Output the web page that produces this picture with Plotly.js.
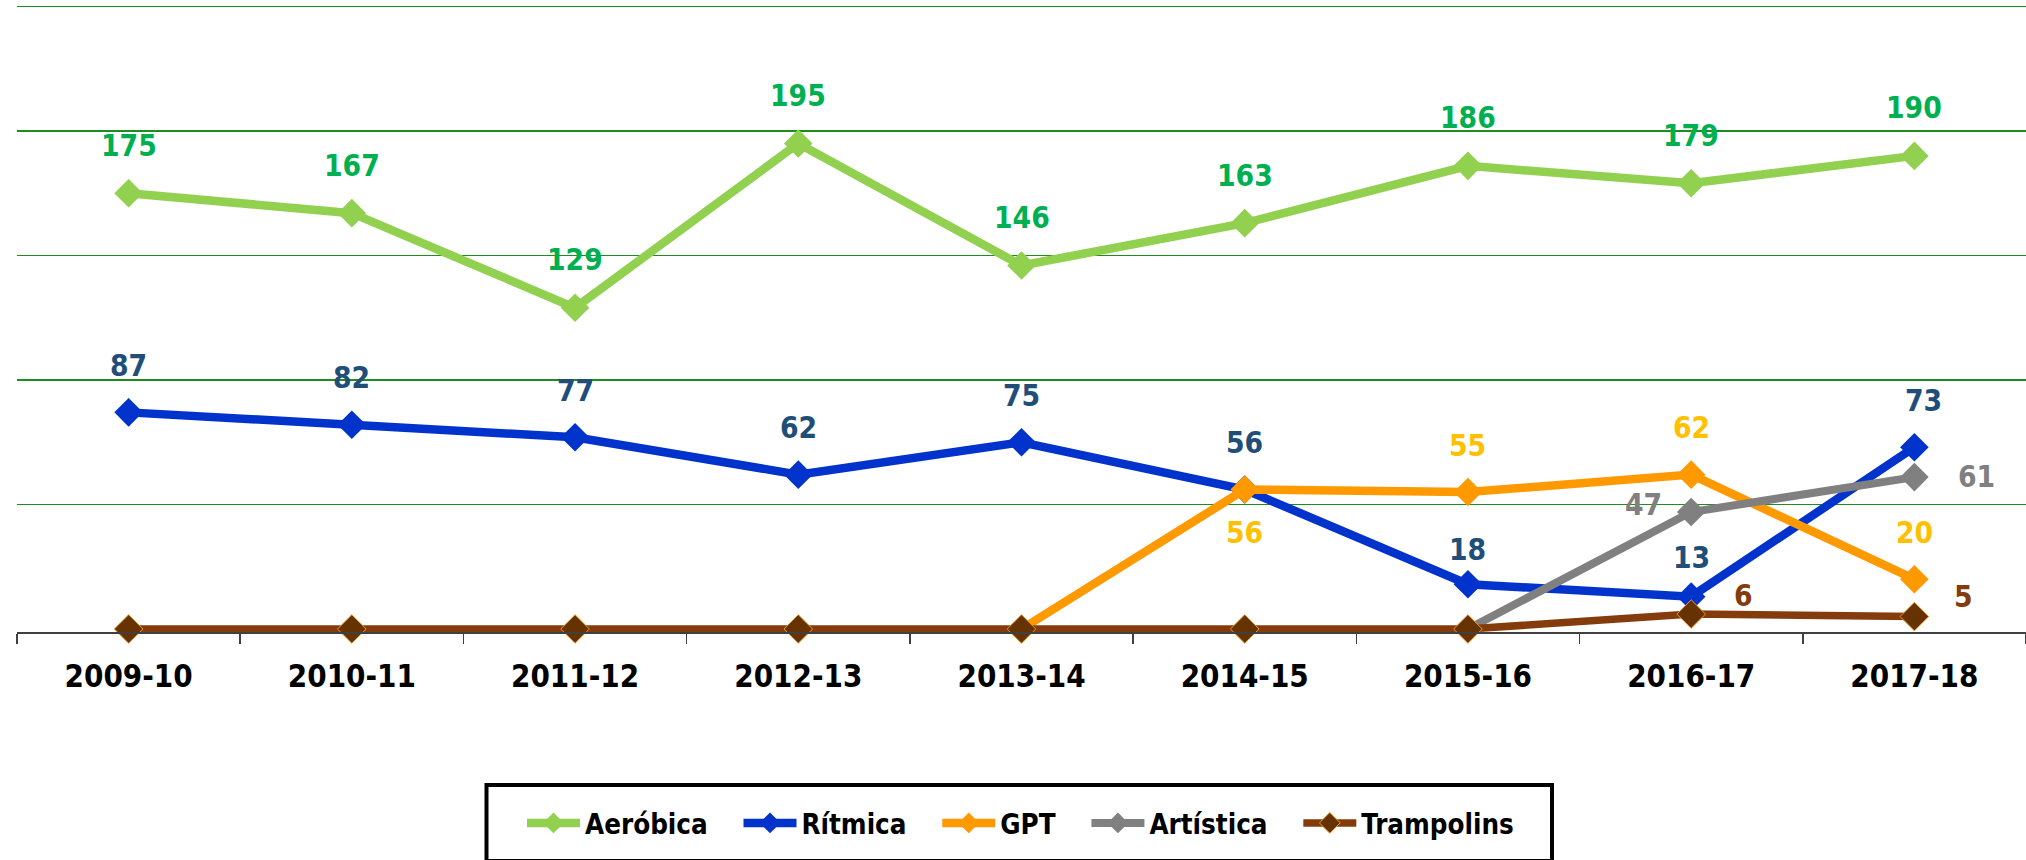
<!DOCTYPE html>
<html>
<head>
<meta charset="utf-8">
<script src="https://cdn.plot.ly/plotly-3.0.1.min.js"></script>
<style>
  html, body { margin: 0; padding: 0; background: #ffffff; }
  #chart { width: 2026px; height: 860px; }
</style>
</head>
<body>
<div id="chart"></div>
<script>
// ---- data ----
const seasons = ['2009-10', '2010-11', '2011-12', '2012-13', '2013-14', '2014-15', '2015-16', '2016-17', '2017-18'];
const aerobica   = [175, 167, 129, 195, 146, 163, 186, 179, 190];
const ritmica    = [87, 82, 77, 62, 75, 56, 18, 13, 73];
const gpt        = [null, null, null, null, 0, 56, 55, 62, 20];
const artistica  = [null, null, null, null, null, null, 0, 47, 61];
const trampolins = [0, 0, 0, 0, 0, 0, 0, 6, 5];
const seriesNames = ['Aeróbica', 'Rítmica', 'GPT', 'Artística', 'Trampolins'];
const gridValues = [50, 100, 150, 200, 250];

// ---- font selection (condensed bold face) ----
const probe = document.createElement('canvas').getContext('2d');
function textW(txt, size, family, stretch) {
  probe.font = stretch + ' 700 ' + size + 'px ' + family;
  try { probe.fontStretch = stretch; } catch (e) {}
  return probe.measureText(txt).width;
}
let FONT = "'Noto Sans'";
let STRETCH = 'condensed';
if (!(textW('2009-10', 100, FONT, 'condensed') < 0.92 * textW('2009-10', 100, FONT, 'normal'))) {
  FONT = "'DejaVu Sans Condensed'";
  STRETCH = 'normal';
}
if (STRETCH !== 'normal') {
  const st = document.createElement('style');
  st.textContent = 'text { font-stretch: ' + STRETCH + '; }';
  document.head.appendChild(st);
}
function fitSize(maxSize, sample, target) {
  const w = textW(sample, maxSize, FONT, STRETCH);
  return Math.min(maxSize, maxSize * Math.pow(target / w, 0.6));
}
const tickSize = fitSize(37, '2009-10', 114);
const labelSize = fitSize(35, '175', 50);
const legendSize = fitSize(32, 'Aeróbica', 111);

// ---- styles ----
const styles = [
  { values: aerobica,   line: '#92D050', marker: '#92D050', mline: '#92D050', width: 8.5, label: '#00B050',
    shift: { dx: 0, dy: 48 }, overrides: {} },
  { values: ritmica,    line: '#0033CC', marker: '#0033CC', mline: '#0033CC', width: 8.5, label: '#1F4E79',
    shift: { dx: 0, dy: 47 }, overrides: { 6: { dx: 0, dy: 35 }, 7: { dx: 0, dy: 39 }, 8: { dx: 9, dy: 47 } } },
  { values: gpt,        line: '#FF9900', marker: '#FF9900', mline: '#FF9900', width: 8.5, label: '#FFC000',
    shift: { dx: 0, dy: 47 }, overrides: { 5: { dx: 0, dy: -43 } } },
  { values: artistica,  line: '#808080', marker: '#808080', mline: '#808080', width: 8, label: '#808080',
    shift: { dx: 0, dy: 47 }, overrides: { 7: { dx: -48, dy: 7 }, 8: { dx: 62, dy: 1 } } },
  { values: trampolins, line: '#843C0C', marker: '#663300', mline: '#E69A28', width: 7.5, label: '#843C0C',
    shift: { dx: 0, dy: 47 }, overrides: { 7: { dx: 52, dy: 19 }, 8: { dx: 49, dy: 20 } } }
];

// legend spacing (reference item strides, px)
const legendStrides = [215, 200, 154, 212, 0];
const nbspW = textW('\u00A0', legendSize, FONT, STRETCH) || 8;
const legendNames = seriesNames.map((n, i) => {
  if (!legendStrides[i]) return n;
  const tw = textW(n, legendSize, FONT, STRETCH);
  const k = Math.max(0, Math.round((legendStrides[i] - 69 - tw) / nbspW));
  return n + '\u00A0'.repeat(k);
});

const traces = styles.map((s, i) => ({
  type: 'scatter',
  mode: 'lines+markers',
  name: legendNames[i],
  x: seasons,
  y: s.values,
  connectgaps: false,
  cliponaxis: false,
  line: { color: s.line, width: s.width },
  marker: { symbol: 'diamond', size: 22, color: s.marker, line: { color: s.mline, width: i === 4 ? 1 : 0 } },
  hoverinfo: 'x+y+name'
}));

const annotations = [];
styles.forEach((s, i) => {
  s.values.forEach((v, j) => {
    if (v === null || v === 0) return;
    const o = s.overrides[j] || s.shift;
    annotations.push({
      xref: 'x', yref: 'y', x: seasons[j], y: v,
      text: String(v), showarrow: false,
      xshift: o.dx, yshift: o.dy,
      font: { family: FONT, size: labelSize, color: s.label, weight: 700 }
    });
  });
});

const layout = {
  width: 2026, height: 860,
  margin: { l: 17, r: 0, t: 4, b: 228 },
  paper_bgcolor: '#ffffff', plot_bgcolor: '#ffffff',
  showlegend: true,
  font: { family: FONT, color: '#000000' },
  xaxis: {
    type: 'category',
    range: [-0.5, 8.5],
    showgrid: false,
    showline: true, linecolor: '#404040', linewidth: 1.5,
    ticks: 'outside', tickson: 'boundaries', ticklen: 10, tickwidth: 1.5, tickcolor: '#404040',
    tickfont: { family: FONT, size: tickSize, color: '#000000', weight: 700 },
    ticklabelstandoff: 16,
    zeroline: false, fixedrange: true
  },
  yaxis: {
    range: [-1.2, 251],
    tickmode: 'array', tickvals: gridValues,
    showgrid: true, gridcolor: '#1E8C1E', gridwidth: 1.5,
    showticklabels: false, ticks: '',
    zeroline: false, showline: false, fixedrange: true
  },
  legend: {
    orientation: 'h',
    xref: 'container', yref: 'container',
    x: 522 / 2026, xanchor: 'left',
    y: 1 - 823 / 860, yanchor: 'middle',
    itemwidth: 53,
    font: { family: FONT, size: legendSize, color: '#000000', weight: 700 },
    bgcolor: 'rgba(0,0,0,0)', borderwidth: 0
  },
  shapes: [{
    type: 'rect', xref: 'paper', yref: 'paper',
    x0: (486.5 - 17) / 2009, x1: (1552 - 17) / 2009,
    y0: (632 - 785) / 628, y1: (632 - 861) / 628,
    line: { color: '#000000', width: 4 }, fillcolor: 'rgba(0,0,0,0)'
  }],
  annotations: annotations
};

Plotly.newPlot('chart', traces, layout, { displayModeBar: false, staticPlot: true });
</script>
</body>
</html>
